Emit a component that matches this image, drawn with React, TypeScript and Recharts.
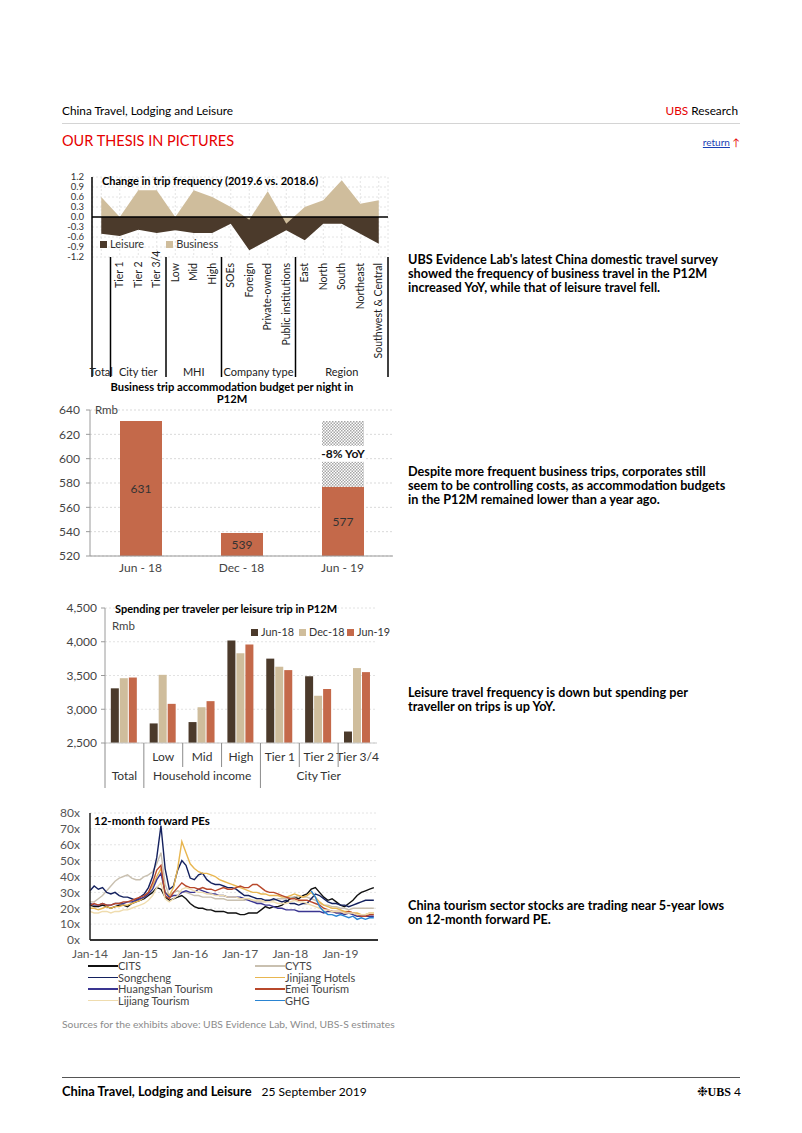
import React from 'react'
import {
  Area,
  AreaChart,
  Bar,
  BarChart,
  CartesianGrid,
  LabelList,
  Legend,
  Line,
  LineChart,
  ReferenceLine,
  XAxis,
  YAxis,
} from 'recharts'

const FONT = 'Lato, "Open Sans", sans-serif'
const RED = '#e60000'
const DARK = '#4b3a2b'
const TAN = '#cfbd9c'
const BRICK = '#c4694a'

// ---- chart 1: change in trip frequency
const tripCategories = ['Total', 'Tier 1', 'Tier 2', 'Tier 3/4', 'Low', 'Mid', 'High', 'SOEs', 'Foreign', 'Private-owned', 'Public institutions', 'East', 'North', 'South', 'Northeast', 'Southwest & Central']
const tripGroups = ['Total', 'City tier', 'MHI', 'Company type', 'Region']
const tripGroupSizes = [1, 3, 3, 4, 5]
const leisureChange = [-0.5, -0.57, -0.38, -0.48, -0.4, -0.48, -0.48, -0.2, -1.0, -0.7, -0.4, -0.7, -0.2, -0.2, -0.5, -0.8]
const businessChange = [0.6, 0.0, 0.8, 0.8, 0.0, 0.8, 0.6, 0.3, -0.08, 0.77, -0.2, 0.3, 0.5, 1.1, 0.4, 0.5]
const tripTicks = [1.2, 0.9, 0.6, 0.3, 0, -0.3, -0.6, -0.9, -1.2]

// ---- chart 2: accommodation budget
const budgetPeriods = ['Jun - 18', 'Dec - 18', 'Jun - 19']
const budgetValues = [631, 539, 577]
const budgetGap = [null, null, 54]
const budgetTicks = [520, 540, 560, 580, 600, 620, 640]
const yoyText = '-8% YoY'

// ---- chart 3: spending per traveller
const spendCategories = ['Total', 'Low', 'Mid', 'High', 'Tier 1', 'Tier 2', 'Tier 3/4']
const spendGroups = ['Total', 'Household income', 'City Tier']
const spendGroupSizes = [1, 3, 3]
const spendJun18 = [3310, 2790, 2810, 4020, 3750, 3490, 2670]
const spendDec18 = [3460, 3510, 3030, 3830, 3630, 3200, 3610]
const spendJun19 = [3470, 3080, 3120, 3960, 3580, 3300, 3550]
const spendTicks = [2500, 3000, 3500, 4000, 4500]

// ---- chart 4: 12-month forward PEs, monthly Jan-14 .. Sep-19
const peYearLabels = ['Jan-14', 'Jan-15', 'Jan-16', 'Jan-17', 'Jan-18', 'Jan-19']
const peTicks = [0, 10, 20, 30, 40, 50, 60, 70, 80]
const cits = [
  22, 21, 21, 22, 21, 20, 21, 22, 22, 21, 23, 24,
  25, 26, 28, 30, 33, 32, 27, 25, 26, 27, 28, 26,
  23, 21, 20, 20, 19, 19, 18, 18, 18, 17, 17, 17,
  16, 16, 17, 17, 17, 19, 21, 20, 21, 21, 22, 24,
  26, 27, 26, 28, 29, 32, 33, 30, 27, 25, 26, 24,
  22, 21, 23, 25, 28, 30, 31, 32, 33,
]
const cyts = [
  24, 24, 26, 28, 31, 34, 37, 39, 40, 41, 39, 38,
  38, 40, 41, 43, 48, 55, 35, 28, 30, 31, 30, 30,
  29, 28, 28, 27, 27, 27, 26, 26, 26, 25, 25, 25,
  25, 25, 26, 25, 24, 24, 24, 25, 25, 26, 26, 26,
  27, 27, 28, 27, 27, 26, 25, 23, 22, 22, 21, 21,
  20, 20, 19, 20, 20, 20, 20, 20, 20,
]
const songcheng = [
  31, 34, 32, 33, 30, 29, 30, 28, 27, 27, 26, 25,
  27, 29, 33, 40, 52, 72, 45, 32, 34, 44, 50, 47,
  39, 38, 41, 42, 38, 36, 35, 35, 34, 33, 33, 32,
  30, 28, 28, 27, 26, 26, 25, 25, 26, 25, 24, 25,
  23, 23, 22, 23, 23, 26, 29, 28, 26, 24, 23, 23,
  22, 22, 21, 22, 23, 24, 25, 25, 25,
]
const jinjiang = [
  20, 20, 19, 20, 21, 20, 21, 21, 22, 22, 23, 24,
  25, 27, 30, 34, 40, 45, 30, 28, 33, 45, 62, 55,
  48, 45, 43, 42, 42, 41, 40, 38, 37, 36, 35, 34,
  33, 32, 31, 30, 30, 29, 29, 28, 28, 28, 27, 27,
  28, 29, 28, 27, 28, 30, 27, 24, 22, 21, 20, 20,
  19, 18, 18, 17, 17, 16, 16, 17, 17,
]
const huangshan = [
  23, 22, 22, 23, 22, 22, 23, 23, 23, 24, 24, 25,
  26, 27, 29, 32, 38, 42, 30, 27, 28, 28, 30, 31,
  30, 30, 32, 31, 30, 29, 29, 28, 28, 27, 27, 27,
  27, 26, 25, 24, 23, 23, 22, 22, 21, 20, 20, 19,
  19, 19, 18, 18, 18, 18, 18, 18, 17, 18, 18, 17,
  17, 16, 17, 16, 15, 15, 15, 15, 15,
]
const emei = [
  22, 23, 22, 23, 22, 22, 23, 23, 24, 24, 25, 26,
  27, 28, 30, 36, 44, 47, 28, 26, 30, 33, 36, 34,
  33, 33, 32, 33, 32, 32, 31, 32, 33, 32, 32, 33,
  34, 33, 33, 35, 35, 33, 31, 30, 30, 29, 28, 27,
  26, 26, 25, 25, 25, 24, 23, 22, 20, 19, 18, 18,
  18, 17, 18, 17, 16, 15, 15, 16, 16,
]
const lijiang = [
  18, 17, 17, 18, 18, 17, 18, 18, 19, 19, 20, 21,
  22, 23, 25, 28, 33, 36, 26, 24, 26, 28, 32, 33,
  32, 31, 30, 30, 29, 29, 28, 28, 28, 27, 27, 27,
  26, 26, 26, 25, 25, 25, 24, 24, 24, 23, 23, 23,
  24, 25, 24, 24, 23, 22, 21, 20, 19, 19, 18, 18,
  18, 17, 17, 17, 16, 16, 16, 17, 17,
]
const ghgStart = 53 // listed Jun-18
const ghg = [31, 27, 21, 18, 16, 16, 15, 16, 15, 14, 15, 13, 14, 13, 14, 14]

const peSeries = [
  { key: 'cits', name: 'CITS', color: '#111111', values: cits },
  { key: 'cyts', name: 'CYTS', color: '#c9c0b0', values: cyts },
  { key: 'songcheng', name: 'Songcheng', color: '#14215e', values: songcheng },
  { key: 'jinjiang', name: 'Jinjiang Hotels', color: '#e8b650', values: jinjiang },
  { key: 'huangshan', name: 'Huangshan Tourism', color: '#3a3591', values: huangshan },
  { key: 'emei', name: 'Emei Tourism', color: '#b8482b', values: emei },
  { key: 'lijiang', name: 'Lijiang Tourism', color: '#efdcae', values: lijiang },
]

const tripData = tripCategories.map((name, i) => ({
  name,
  leisure: leisureChange[i],
  business: businessChange[i],
}))
const tripGroupStarts = tripGroupSizes.map((_, g) =>
  tripGroupSizes.slice(0, g).reduce((a, b) => a + b, 0)
)

const budgetData = budgetPeriods.map((period, i) => ({
  period,
  value: budgetValues[i],
  gap: budgetGap[i],
}))

const spendData = spendCategories.map((name, i) => ({
  name,
  jun18: spendJun18[i],
  dec18: spendDec18[i],
  jun19: spendJun19[i],
}))
const spendGroupStarts = spendGroupSizes.map((_, g) =>
  spendGroupSizes.slice(0, g).reduce((a, b) => a + b, 0)
)

const peData = cits.map((_, m) => {
  const row: Record<string, number | null> = { m }
  peSeries.forEach((s) => {
    row[s.key] = s.values[m]
  })
  row.ghg = m >= ghgStart ? ghg[m - ghgStart] : null
  return row
})
const peLegend = [...peSeries, { key: 'ghg', name: 'GHG', color: '#2a84d2', values: ghg }]

const TRIP_BAND = 18.5
const SPEND_BAND = 272 / 7

function TripTick(props: any) {
  const { x, y, index, payload } = props
  const half = TRIP_BAND / 2
  const g = tripGroupStarts.indexOf(index)
  const groupOf = tripGroupStarts.filter((s) => s <= index).length - 1
  const single = tripGroupSizes[groupOf] === 1
  const inTier = groupOf === 1
  const ay = inTier ? y + 31 : y + 6
  return (
    <g>
      {!single && (
        <text
          x={x}
          y={ay}
          dy='0.35em'
          transform={`rotate(-90, ${x}, ${ay})`}
          textAnchor={inTier ? 'start' : 'end'}
          fontSize={10.5}
          fill='#222'
        >
          {payload.value}
        </text>
      )}
      {g >= 0 && (
        <line x1={x - half} x2={x - half} y1={y} y2={y + 120} stroke='#000' strokeWidth={1.5} />
      )}
      {g >= 0 && (
        <text
          x={x - half + (tripGroupSizes[g] * TRIP_BAND) / 2}
          y={y + 115}
          dy='0.35em'
          textAnchor='middle'
          fontSize={11}
          fill='#222'
        >
          {tripGroups[g]}
        </text>
      )}
      {index === tripCategories.length - 1 && (
        <line x1={x + half} x2={x + half} y1={y} y2={y + 120} stroke='#000' strokeWidth={1.5} />
      )}
    </g>
  )
}

function SpendTick(props: any) {
  const { x, y, index, payload } = props
  const half = SPEND_BAND / 2
  const g = spendGroupStarts.indexOf(index)
  const groupOf = spendGroupStarts.filter((s) => s <= index).length - 1
  const single = spendGroupSizes[groupOf] === 1
  return (
    <g>
      {!single && (
        <text x={x} y={y + 14} dy='0.35em' textAnchor='middle' fontSize={12} fill='#333'>
          {payload.value}
        </text>
      )}
      <line
        x1={x - half}
        x2={x - half}
        y1={y}
        y2={g >= 0 ? y + 45 : y + 24}
        stroke='#8c8c8c'
        strokeWidth={1}
      />
      {g >= 0 && (
        <text
          x={x - half + (spendGroupSizes[g] * SPEND_BAND) / 2}
          y={y + 33}
          dy='0.35em'
          textAnchor='middle'
          fontSize={12}
          fill='#333'
        >
          {spendGroups[g]}
        </text>
      )}
    </g>
  )
}

function YoyLabel(props: any) {
  const { x, y, width, height, value } = props
  if (!value) return null
  const cy = y + height / 2
  return (
    <g>
      <rect x={x} y={cy - 8} width={width} height={16} fill='#fff' />
      <text
        x={x + width / 2}
        y={cy}
        dy='0.35em'
        textAnchor='middle'
        fontSize={12}
        fontWeight={700}
        fill='#111'
      >
        {yoyText}
      </text>
    </g>
  )
}

const swatch = (color: string) => (
  <span
    style={{
      display: 'inline-block',
      width: 7,
      height: 7,
      background: color,
      marginRight: 3,
      verticalAlign: 'middle',
      position: 'relative',
      top: -1,
    }}
  />
)

function TripLegend() {
  return (
    <div style={{ fontSize: 11, color: '#333', lineHeight: '14px', whiteSpace: 'nowrap' }}>
      {swatch(DARK)}Leisure
      <span style={{ marginLeft: 22 }}>{swatch(TAN)}Business</span>
    </div>
  )
}

function SpendLegend() {
  const items = [
    ['Jun-18', DARK],
    ['Dec-18', TAN],
    ['Jun-19', BRICK],
  ]
  return (
    <div style={{ fontSize: 10.8, color: '#333', lineHeight: '14px', whiteSpace: 'nowrap' }}>
      {items.map(([label, color]) => (
        <span key={label} style={{ display: 'inline-block', width: 48 }}>
          {swatch(color)}
          {label}
        </span>
      ))}
    </div>
  )
}

function PeLegend() {
  return (
    <div
      style={{
        display: 'grid',
        gridTemplateColumns: '167px 150px',
        fontSize: 11,
        lineHeight: '11.5px',
        color: '#444',
        whiteSpace: 'nowrap',
      }}
    >
      {peLegend.map((s) => (
        <div key={s.key} style={{ display: 'flex', alignItems: 'center' }}>
          <span style={{ display: 'inline-block', width: 30, height: 1.5, background: s.color }} />
          <span>{s.name}</span>
        </div>
      ))}
    </div>
  )
}

const abs = (left: number, top: number, extra: React.CSSProperties = {}): React.CSSProperties => ({
  position: 'absolute',
  left,
  top,
  whiteSpace: 'nowrap',
  ...extra,
})

const para: React.CSSProperties = { fontSize: 12.7, fontWeight: 700, lineHeight: '14px' }

export default function App() {
  return (
    <div
      style={{
        position: 'absolute',
        left: 0,
        top: 0,
        width: 802,
        height: 1133,
        background: '#fff',
        fontFamily: FONT,
        color: '#000',
        overflow: 'hidden',
      }}
    >
      {/* header */}
      <div style={abs(62, 104, { fontSize: 11.8, lineHeight: '14px' })}>China Travel, Lodging and Leisure</div>
      <div style={{ ...abs(0, 104, { fontSize: 11.8, lineHeight: '14px' }), left: undefined, right: 64 }}>
        <span style={{ color: RED }}>UBS</span> Research
      </div>
      <div style={abs(62, 123, { width: 678, height: 1, background: '#d4d4d4' })} />
      <div style={abs(62, 131, { fontSize: 14.5, lineHeight: '20px', color: RED })}>OUR THESIS IN PICTURES</div>
      <div style={{ ...abs(0, 135, { fontSize: 10, lineHeight: '14px' }), left: undefined, right: 62 }}>
        <span style={{ color: '#1a3fb5', textDecoration: 'underline' }}>return</span>{' '}
        <span style={{ color: RED }}>↑</span>
      </div>

      {/* chart 1 */}
      <div style={abs(55, 170)}>
        <AreaChart width={340} height={212} data={tripData} margin={{ top: 7, right: 7, bottom: 0, left: 0 }}>
          <CartesianGrid stroke='#e4e4e4' strokeDasharray='2 2' />
          <XAxis
            dataKey='name'
            interval={0}
            tick={(p: any) => <TripTick {...p} />}
            tickLine={false}
            axisLine={false}
            tickSize={0}
            tickMargin={0}
            height={125}
            padding={{ left: TRIP_BAND / 2, right: TRIP_BAND / 2 }}
          />
          <YAxis
            domain={[-1.2, 1.2]}
            ticks={tripTicks}
            interval={0}
            width={37}
            tickSize={0}
            tickMargin={8}
            tickFormatter={(v: number) => v.toFixed(1)}
            tick={{ fontSize: 9.5, fill: '#333' }}
            axisLine={{ stroke: '#000', strokeWidth: 1.5 }}
          />
          <Area
            dataKey='leisure'
            name='Leisure'
            type='linear'
            baseValue={0}
            fill={DARK}
            fillOpacity={1}
            stroke='none'
            isAnimationActive={false}
          />
          <Area
            dataKey='business'
            name='Business'
            type='linear'
            baseValue={0}
            fill={TAN}
            fillOpacity={1}
            stroke='none'
            isAnimationActive={false}
          />
          <ReferenceLine y={0} stroke='#000' strokeWidth={1.5} />
          <Legend
            align='center'
            verticalAlign='middle'
            content={() => <TripLegend />}
            wrapperStyle={{ left: 45, top: 67, width: 160 }}
          />
        </AreaChart>
      </div>
      <div style={abs(102, 174, { fontSize: 11, fontWeight: 700, lineHeight: '14px' })}>
        Change in trip frequency (2019.6 vs. 2018.6)
      </div>

      {/* chart 2 */}
      <div style={abs(50, 403)}>
        <BarChart width={350} height={175} data={budgetData} margin={{ top: 7, right: 7, bottom: 2, left: 0 }}>
          <defs>
            <pattern id='dots' width='3' height='3' patternUnits='userSpaceOnUse'>
              <rect width='3' height='3' fill='#ffffff' />
              <rect width='1.5' height='1.5' fill='#a6a6a6' />
              <rect x='1.5' y='1.5' width='1.5' height='1.5' fill='#a6a6a6' />
            </pattern>
          </defs>
          <CartesianGrid vertical={false} stroke='#d9d9d9' strokeDasharray='2 2' />
          <XAxis
            dataKey='period'
            tickLine={false}
            tickSize={0}
            tickMargin={7}
            axisLine={{ stroke: '#9a9a9a' }}
            tick={{ fontSize: 12, fill: '#444' }}
            height={20}
          />
          <YAxis
            domain={[520, 640]}
            allowDataOverflow
            ticks={budgetTicks}
            interval={0}
            width={40}
            tickSize={4}
            tickMargin={6}
            tick={{ fontSize: 12, fill: '#444' }}
            axisLine={{ stroke: '#9a9a9a' }}
            tickLine={{ stroke: '#9a9a9a' }}
          />
          <Bar dataKey='value' stackId='a' fill={BRICK} barSize={42} isAnimationActive={false}>
            <LabelList dataKey='value' position='center' fontSize={12} fill='#333' />
          </Bar>
          <Bar dataKey='gap' stackId='a' fill='url(#dots)' barSize={42} isAnimationActive={false}>
            <LabelList dataKey='gap' content={(p: any) => <YoyLabel {...p} />} />
          </Bar>
        </BarChart>
      </div>
      <div style={abs(82, 381, { width: 300, textAlign: 'center', fontSize: 11.2, fontWeight: 700, lineHeight: '12px' })}>
        Business trip accommodation budget per night in
        <br />
        P12M
      </div>
      <div style={abs(95, 403, { fontSize: 11.5, lineHeight: '14px', color: '#444' })}>Rmb</div>

      {/* chart 3 */}
      <div style={abs(50, 600)}>
        <BarChart
          width={335}
          height={190}
          data={spendData}
          margin={{ top: 8, right: 8, bottom: 0, left: 0 }}
          barCategoryGap='15%'
          barGap={1}
        >
          <CartesianGrid vertical={false} stroke='#e2e2e2' strokeDasharray='2 2' />
          <XAxis
            dataKey='name'
            interval={0}
            tick={(p: any) => <SpendTick {...p} />}
            tickLine={false}
            tickSize={0}
            tickMargin={0}
            axisLine={{ stroke: '#c8c8c8' }}
            height={47}
          />
          <YAxis
            domain={[2500, 4500]}
            allowDataOverflow
            ticks={spendTicks}
            interval={0}
            width={55}
            tickSize={4}
            tickMargin={4}
            tickFormatter={(v: number) => v.toLocaleString('en-US')}
            tick={{ fontSize: 12, fill: '#444' }}
            axisLine={{ stroke: '#9a9a9a' }}
            tickLine={{ stroke: '#9a9a9a' }}
          />
          <Bar dataKey='jun18' name='Jun-18' fill={DARK} isAnimationActive={false} />
          <Bar dataKey='dec18' name='Dec-18' fill={TAN} isAnimationActive={false} />
          <Bar dataKey='jun19' name='Jun-19' fill={BRICK} isAnimationActive={false} />
          <Legend
            align='center'
            verticalAlign='middle'
            content={() => <SpendLegend />}
            wrapperStyle={{ left: 201, top: 25, width: 148 }}
          />
        </BarChart>
      </div>
      <div style={abs(115, 602, { fontSize: 11, fontWeight: 700, lineHeight: '14px' })}>
        Spending per traveler per leisure trip in P12M
      </div>
      <div style={abs(112, 619, { fontSize: 11.5, lineHeight: '14px', color: '#444' })}>Rmb</div>

      {/* chart 4 */}
      <div style={abs(45, 805)}>
        <LineChart width={340} height={205} data={peData} margin={{ top: 8, right: 7, bottom: 48, left: 0 }}>
          <CartesianGrid vertical={false} stroke='#e4e4e4' strokeDasharray='2 2' />
          <XAxis
            dataKey='m'
            type='number'
            domain={[0, 69]}
            ticks={[0, 12, 24, 36, 48, 60]}
            interval={0}
            tickFormatter={(m: number) => peYearLabels[m / 12]}
            tickLine={false}
            tickSize={0}
            tickMargin={9}
            axisLine={{ stroke: '#333', strokeWidth: 2 }}
            tick={{ fontSize: 12, fill: '#555' }}
            height={22}
          />
          <YAxis
            domain={[0, 80]}
            ticks={peTicks}
            interval={0}
            width={45}
            tickSize={0}
            tickMargin={10}
            tickFormatter={(v: number) => `${v}x`}
            tick={{ fontSize: 12, fill: '#555' }}
            axisLine={{ stroke: '#222', strokeWidth: 1.5 }}
          />
          {peLegend.map((s) => (
            <Line
              key={s.key}
              dataKey={s.key}
              name={s.name}
              type='linear'
              stroke={s.color}
              strokeWidth={1.4}
              dot={false}
              isAnimationActive={false}
            />
          ))}
          <Legend
            align='center'
            verticalAlign='middle'
            content={() => <PeLegend />}
            wrapperStyle={{ left: 43, top: 155, width: 320 }}
          />
        </LineChart>
      </div>
      <div style={abs(94, 814, { fontSize: 11.5, fontWeight: 700, lineHeight: '14px' })}>12-month forward PEs</div>

      <div style={abs(62, 1017, { fontSize: 10.3, lineHeight: '14px', color: '#8c8c8c' })}>
        Sources for the exhibits above: UBS Evidence Lab, Wind, UBS-S estimates
      </div>

      {/* right column commentary */}
      <div style={abs(408, 252, para)}>
        UBS Evidence Lab's latest China domestic travel survey
        <br />
        showed the frequency of business travel in the P12M
        <br />
        increased YoY, while that of leisure travel fell.
      </div>
      <div style={abs(408, 464, para)}>
        Despite more frequent business trips, corporates still
        <br />
        seem to be controlling costs, as accommodation budgets
        <br />
        in the P12M remained lower than a year ago.
      </div>
      <div style={abs(408, 685, para)}>
        Leisure travel frequency is down but spending per
        <br />
        traveller on trips is up YoY.
      </div>
      <div style={abs(408, 898, para)}>
        China tourism sector stocks are trading near 5-year lows
        <br />
        on 12-month forward PE.
      </div>

      {/* footer */}
      <div style={abs(62, 1077, { width: 678, height: 1, background: '#555' })} />
      <div style={abs(62, 1084, { fontSize: 12, lineHeight: '14px' })}>
        <b style={{ fontSize: 12.9 }}>China Travel, Lodging and Leisure</b>
        <span style={{ marginLeft: 10 }}>25 September 2019</span>
      </div>
      <div style={{ ...abs(0, 1084, { fontSize: 12, lineHeight: '14px' }), left: undefined, right: 61 }}>
        <span style={{ fontSize: 13 }}>❉</span>
        <span style={{ fontFamily: '"Liberation Serif", serif', fontWeight: 700 }}>UBS</span> 4
      </div>
    </div>
  )
}
